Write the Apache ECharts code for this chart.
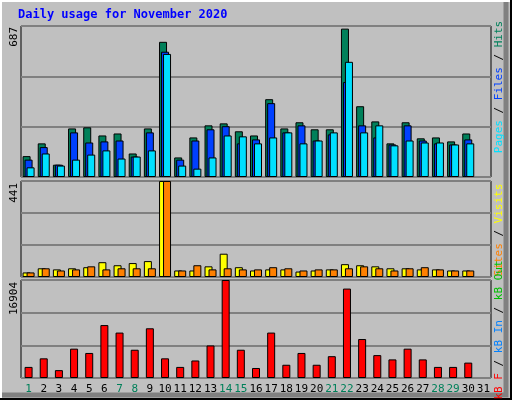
<!DOCTYPE html>
<html><head><meta charset="utf-8">
<script src="https://cdn.jsdelivr.net/npm/echarts@6/dist/echarts.min.js"></script>
<style>html,body{margin:0;padding:0;background:#c0c0c0}#c{width:512px;height:400px}</style>
</head><body><div id="c"></div>
<script>
const days = ['1','2','3','4','5','6','7','8','9','10','11','12','13','14','15','16','17','18','19','20','21','22','23','24','25','26','27','28','29','30','31'];
const weekendDays = ['1','7','8','14','15','21','22','28','29'];
const hits  = [95,153,56,221,226,189,198,107,221,615,89,180,235,244,208,189,354,221,249,217,217,675,322,253,153,249,176,180,162,198,null];
const files = [79,136,56,203,157,162,166,93,203,570,79,166,217,231,153,171,336,203,235,166,194,432,235,180,148,235,166,153,148,171,null];
const pages = [44,107,52,79,102,121,84,93,121,560,52,38,89,189,185,153,180,203,153,166,203,524,203,235,144,166,157,157,148,153,null];
const visits= [21,40,35,40,45,68,54,64,73,441,30,30,49,107,45,30,35,35,25,30,35,59,54,49,40,40,35,35,30,30,null];
const sites = [21,40,30,35,49,35,40,40,40,441,30,54,35,40,35,35,45,40,30,35,35,40,49,40,30,40,45,35,30,30,null];
const kbytes= [1913,3393,1357,5059,4319,9130,7834,4874,8575,3393,1913,3023,5614,16904,4874,1727,7834,2283,4319,2283,3763,15423,6724,3948,3208,5059,3208,1913,1913,2653,null];
const maxTop = 687, maxMid = 441, maxBot = 16904;

const mono = 'DejaVu Sans Mono';
const chart = echarts.init(document.getElementById('c'));
const grids = [
  {left:21, right:21, top:26, height:151},
  {left:21, right:21, top:181, height:96},
  {left:21, right:21, top:280, height:98}
].map(g=>Object.assign(g,{show:true,borderColor:'#000',borderWidth:1,backgroundColor:'transparent'}));
function xa(i, labels){
  return {type:'category', gridIndex:i, data:days, boundaryGap:true,
    axisLine:{show:false}, axisTick:{show:false},
    axisLabel: labels ? {show:true, interval:0, fontFamily:mono, fontSize:11, margin:6,
      color:(v)=> weekendDays.includes(v) ? '#00805a' : '#000'} : {show:false}};
}
function ya(i, max){
  return {type:'value', gridIndex:i, min:0, max:max, interval:max/3,
    axisLine:{show:false}, axisTick:{show:false}, axisLabel:{show:false},
    splitLine:{show:true, lineStyle:{color:'#808080', width:2}}};
}
const bs = {borderColor:'#000', borderWidth:1};
function vlabel(x, cy, rich, text){
  return {type:'text', x:x, y:cy, rotation:Math.PI/2,
    style:{text:text, rich:rich, fontFamily:mono, fontSize:11, align:'center', verticalAlign:'middle'}};
}
chart.setOption({
  animation:false,
  backgroundColor:'#c0c0c0',
  grid: grids,
  xAxis:[xa(0,false), xa(1,false), xa(2,true)],
  yAxis:[ya(0,maxTop), ya(1,maxMid), ya(2,maxBot)],
  series:[
    {type:'bar', xAxisIndex:0, yAxisIndex:0, data:hits, barWidth:8, barGap:'-75%', itemStyle:Object.assign({color:'#00805a'},bs)},
    {type:'bar', xAxisIndex:0, yAxisIndex:0, data:files, barWidth:8, barGap:'-75%', itemStyle:Object.assign({color:'#0040ff'},bs)},
    {type:'bar', xAxisIndex:0, yAxisIndex:0, data:pages, barWidth:8, barGap:'-75%', itemStyle:Object.assign({color:'#00e0ff'},bs)},
    {type:'bar', xAxisIndex:1, yAxisIndex:1, data:visits, barWidth:8, barGap:'-50%', itemStyle:Object.assign({color:'#ffff00'},bs)},
    {type:'bar', xAxisIndex:1, yAxisIndex:1, data:sites, barWidth:8, barGap:'-50%', itemStyle:Object.assign({color:'#ff8000'},bs)},
    {type:'bar', xAxisIndex:2, yAxisIndex:2, data:kbytes, barWidth:8, itemStyle:Object.assign({color:'#ff0000'},bs)}
  ],
  graphic:[
    {type:'polyline', shape:{points:[[1,399],[1,1],[510,1]]}, style:{stroke:'#fff', lineWidth:2, fill:null}},
    {type:'polyline', shape:{points:[[2,395],[506,395],[506,2]]}, style:{stroke:'#808080', lineWidth:5, fill:null}},
    {type:'polyline', shape:{points:[[0,399],[511,399],[511,0]]}, style:{stroke:'#000', lineWidth:2, fill:null}},
    {type:'text', x:18, y:9, style:{text:'Daily usage for November 2020', fill:'#0000ff', fontFamily:mono, fontSize:12, fontWeight:'bold'}},
    {type:'text', x:14, y:27, rotation:Math.PI/2, style:{text:String(maxTop), fill:'#000', fontFamily:mono, fontSize:11, align:'right', verticalAlign:'middle'}},
    {type:'text', x:14, y:183, rotation:Math.PI/2, style:{text:String(maxMid), fill:'#000', fontFamily:mono, fontSize:11, align:'right', verticalAlign:'middle'}},
    {type:'text', x:14, y:282, rotation:Math.PI/2, style:{text:String(maxBot), fill:'#000', fontFamily:mono, fontSize:11, align:'right', verticalAlign:'middle'}},
    vlabel(499, 87, {p:{fill:'#00e0ff'},f:{fill:'#0040ff'},h:{fill:'#00805a'},s:{fill:'#000'}}, '{p|Pages}{s| / }{f|Files}{s| / }{h|Hits}'),
    vlabel(499, 230, {v:{fill:'#ffff00'},o:{fill:'#ff8000'},s:{fill:'#000'}}, '{o|Sites}{s| / }{v|Visits}'),
    vlabel(499, 330, {r:{fill:'#ff0000'},b:{fill:'#0080ff'},g:{fill:'#00c000'},s:{fill:'#000'}}, '{r|kB F}{s| / }{b|kB In}{s| / }{g|kB Out}')
  ]
});
</script></body></html>
